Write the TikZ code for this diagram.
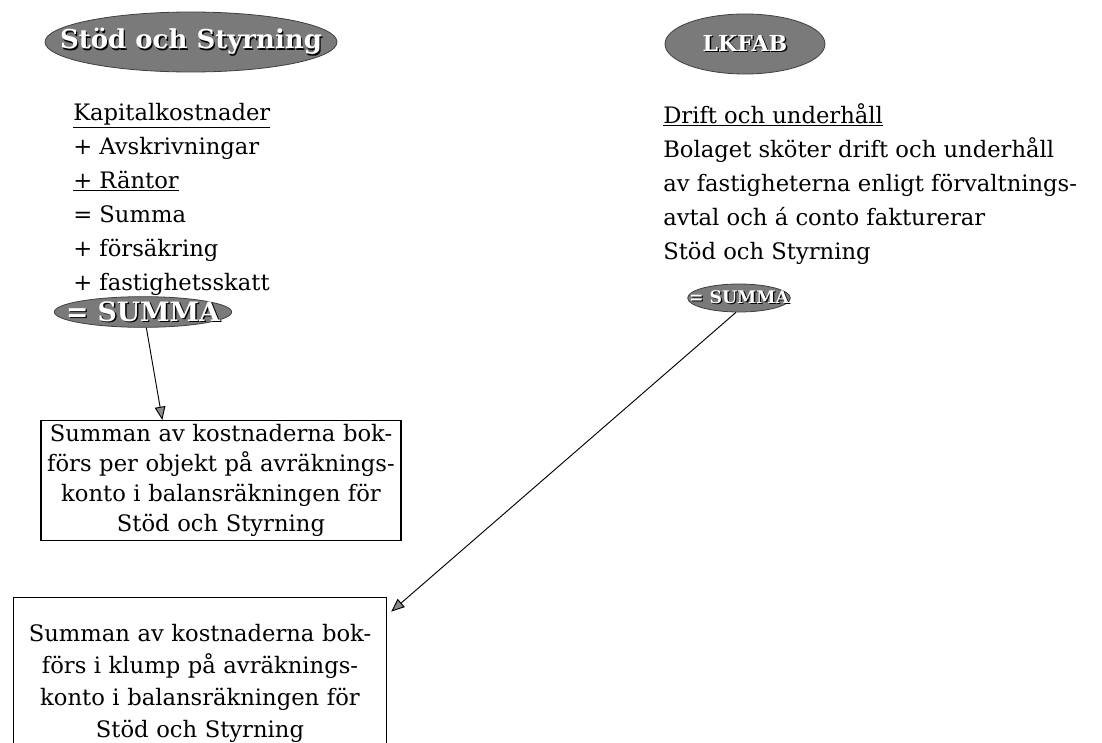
\documentclass[tikz,border=0pt]{standalone}
\usepackage{fontspec}
\setmainfont{DejaVu Serif}
\usetikzlibrary{arrows.meta,shapes.geometric}
\newcommand\emb[1]{\makebox[0pt]{\makebox[0pt][l]{\hspace{1pt}\raisebox{-1pt}{\color{black}#1}}{\color{white}#1}}}
\begin{document}
\begin{tikzpicture}[x=0.75pt,y=-0.75pt,
  oval/.style={ellipse, draw=black!75, fill=black!52, inner sep=0pt, line width=0.6pt},
  ovaltext/.style={font=\fontsize{19.5}{22}\selectfont\bfseries},
  plain/.style={anchor=north west, align=left, inner sep=0pt, font=\fontsize{17}{25.5}\selectfont},
  box/.style={draw=black, line width=0.8pt, align=center, inner xsep=4pt},
  arr/.style={draw=black, line width=0.7pt, -{Triangle[length=10pt,width=8pt,fill=black!45]}}
]
\useasboundingbox (0,0) rectangle (1102,742);
\fill[white] (0,0) rectangle (1102,742);

\node[oval, minimum width=219pt, minimum height=45pt, ovaltext] (sos) at (191,42) {\emb{Stöd och Styrning}};
\node[oval, minimum width=120pt, minimum height=45pt, font=\fontsize{16.5}{18}\selectfont\bfseries] (lkfab) at (745,44) {\emb{LKFAB}};

\node[plain] (left) at (73,103) {\underline{Kapitalkostnader}\\+ Avskrivningar\\\underline{+ Räntor}\\= Summa\\+ försäkring\\+ fastighetsskatt};

\node[plain] (right) at (663,103) {\underline{Drift och underhåll}\\Bolaget sköter drift och underhåll\\av fastigheterna enligt förvaltnings-\\avtal och á conto fakturerar\\Stöd och Styrning};

\node[oval, minimum width=133pt, minimum height=23pt, font=\fontsize{20}{21}\selectfont\bfseries] (sumL) at (143,312) {\emb{= SUMMA}};
\node[oval, minimum width=77pt, minimum height=21pt, font=\fontsize{13}{14}\selectfont\bfseries] (sumR) at (739,298) {\emb{= SUMMA}};

\node[box, anchor=north, text width=262pt, inner ysep=3pt, font=\fontsize{17}{22.5}\selectfont] (box1) at (221,420) {Summan av kostnaderna bok-\\förs per objekt på avräknings-\\konto i balansräkningen för\\Stöd och Styrning};

\node[box, anchor=north, text width=272pt, inner ysep=20pt, font=\fontsize{17}{24}\selectfont] (box2) at (200,597) {Summan av kostnaderna bok-\\förs i klump på avräknings-\\konto i balansräkningen för\\Stöd och Styrning};

\draw[arr] (sumL.282) -- ([xshift=-44pt]box1.north);
\draw[arr] (sumR.258) -- ([xshift=3pt,yshift=-11pt]box2.north east);
\end{tikzpicture}
\end{document}
